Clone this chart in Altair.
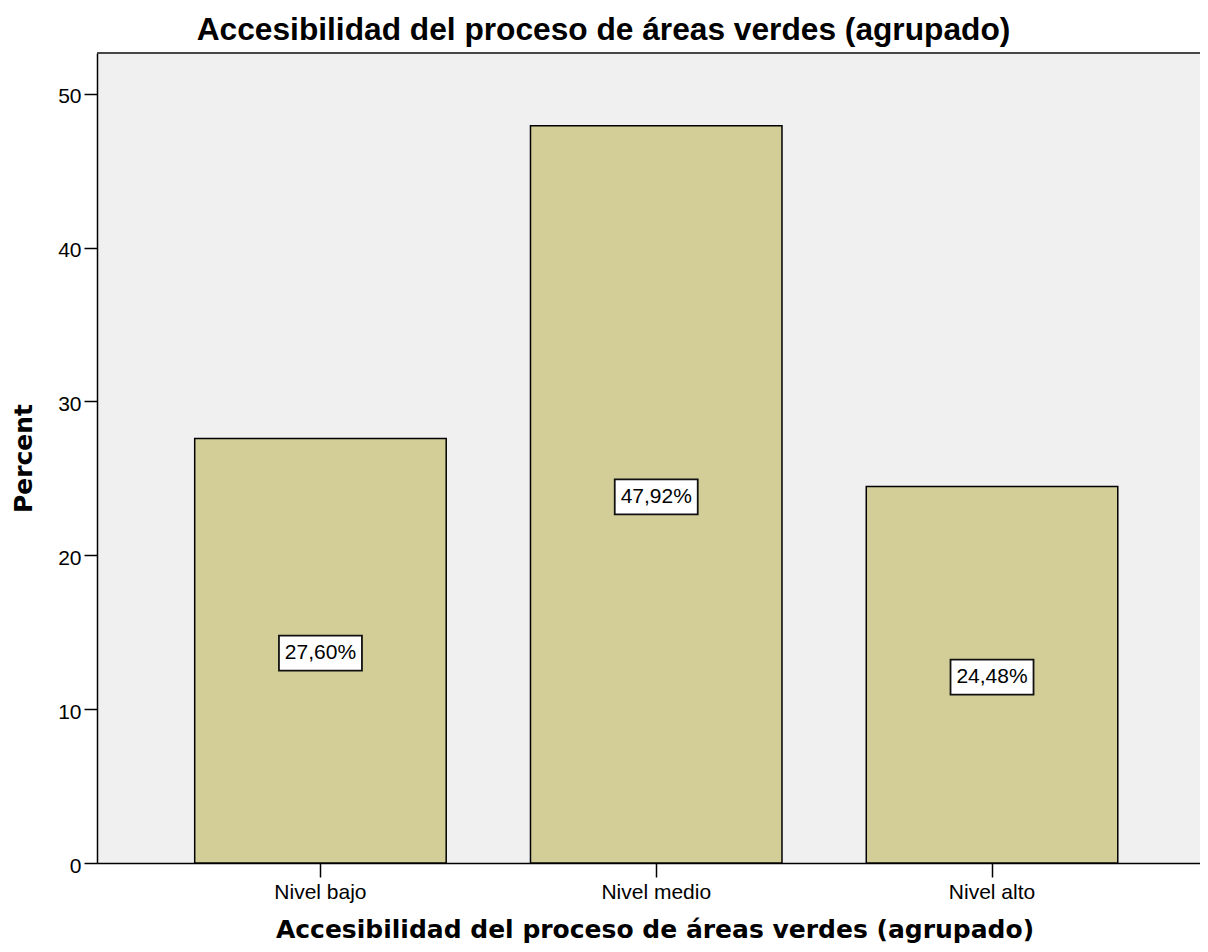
import altair as alt
import pandas as pd

categories = ["Nivel bajo", "Nivel medio", "Nivel alto"]
percents = [27.60, 47.92, 24.48]
labels = ["27,60%", "47,92%", "24,48%"]
y_ticks = [0, 10, 20, 30, 40, 50]

df = pd.DataFrame({"cat": categories, "pct": percents, "label": labels})

W, H = 1103, 810
BOX = "M-1,-0.422L1,-0.422L1,0.422L-1,0.422Z"

x_enc = alt.X(
    "cat:N",
    sort=categories,
    scale=alt.Scale(paddingInner=0.251, paddingOuter=0.2679, align=0.543),
    axis=alt.Axis(
        title="Accesibilidad del proceso de áreas verdes (agrupado)",
        labelAngle=0,
        labelFont="Liberation Sans",
        labelFontSize=21,
        labelColor="#000",
        labelPadding=4,
        tickColor="#000",
        tickSize=14,
        tickWidth=1.5,
        domainColor="#000",
        domainWidth=1.5,
        titleFont="DejaVu Sans",
        titleFontSize=25,
        titleFontWeight="bold",
        titleColor="#000",
        titleX=557.5,
        titleY=74,
        titleBaseline="alphabetic",
        titleAlign="center",
    ),
)

y_scale = alt.Scale(domain=[0, 52.65], nice=False, zero=True)
y_enc = alt.Y(
    "pct:Q",
    scale=y_scale,
    axis=alt.Axis(
        title="Percent",
        values=y_ticks,
        grid=False,
        labelFont="Liberation Sans",
        labelFontSize=21,
        labelColor="#000",
        labelPadding=3,
        labelOffset=3,
        tickColor="#000",
        tickSize=13,
        tickWidth=1.5,
        domainColor="#000",
        domainWidth=1.5,
        titleFont="DejaVu Sans",
        titleFontSize=25,
        titleFontWeight="bold",
        titleColor="#000",
        titleAngle=270,
        titleX=-66,
        titleY=405,
        titleBaseline="alphabetic",
        titleAlign="center",
    ),
)

top_border = alt.Chart(df).mark_rule(color="#444", strokeWidth=1.5).encode(
    x=alt.value(0), x2=alt.value(W), y=alt.value(0)
)

bars = alt.Chart(df).mark_bar(color="#D3CE97", stroke="#000", strokeWidth=1.5).encode(
    x=x_enc, y=y_enc
)

base_mid = alt.Chart(df).transform_calculate(mid="datum.pct / 2")

boxes = base_mid.mark_point(
    shape=BOX, size=83 * 83, filled=True, fill="white", stroke="#111",
    strokeWidth=1.8, opacity=1, yOffset=2.5,
).encode(
    x=alt.X("cat:N", sort=categories),
    y=alt.Y("mid:Q", scale=y_scale),
)

texts = base_mid.mark_text(
    font="Liberation Sans", fontSize=21, color="#000", baseline="middle",
    align="center", yOffset=2.5,
).encode(
    x=alt.X("cat:N", sort=categories),
    y=alt.Y("mid:Q", scale=y_scale),
    text="label:N",
)

chart = (
    alt.layer(bars, top_border, boxes, texts)
    .properties(
        width=W,
        height=H,
        title=alt.TitleParams(
            text="Accesibilidad del proceso de áreas verdes (agrupado)",
            font="Liberation Sans",
            fontSize=31.7,
            fontWeight="bold",
            color="#000",
            anchor="middle",
            dx=-45,
            dy=33,
            offset=14,
            baseline="alphabetic",
        ),
        autosize=alt.AutoSizeParams(type="none"),
        padding={"left": 89, "top": 45, "right": 0, "bottom": 81},
        background="white",
    )
    .configure_view(fill="#F0F0F0", strokeWidth=0)
)

chart.save("out.html", embed_options={"renderer": "svg", "actions": False})
